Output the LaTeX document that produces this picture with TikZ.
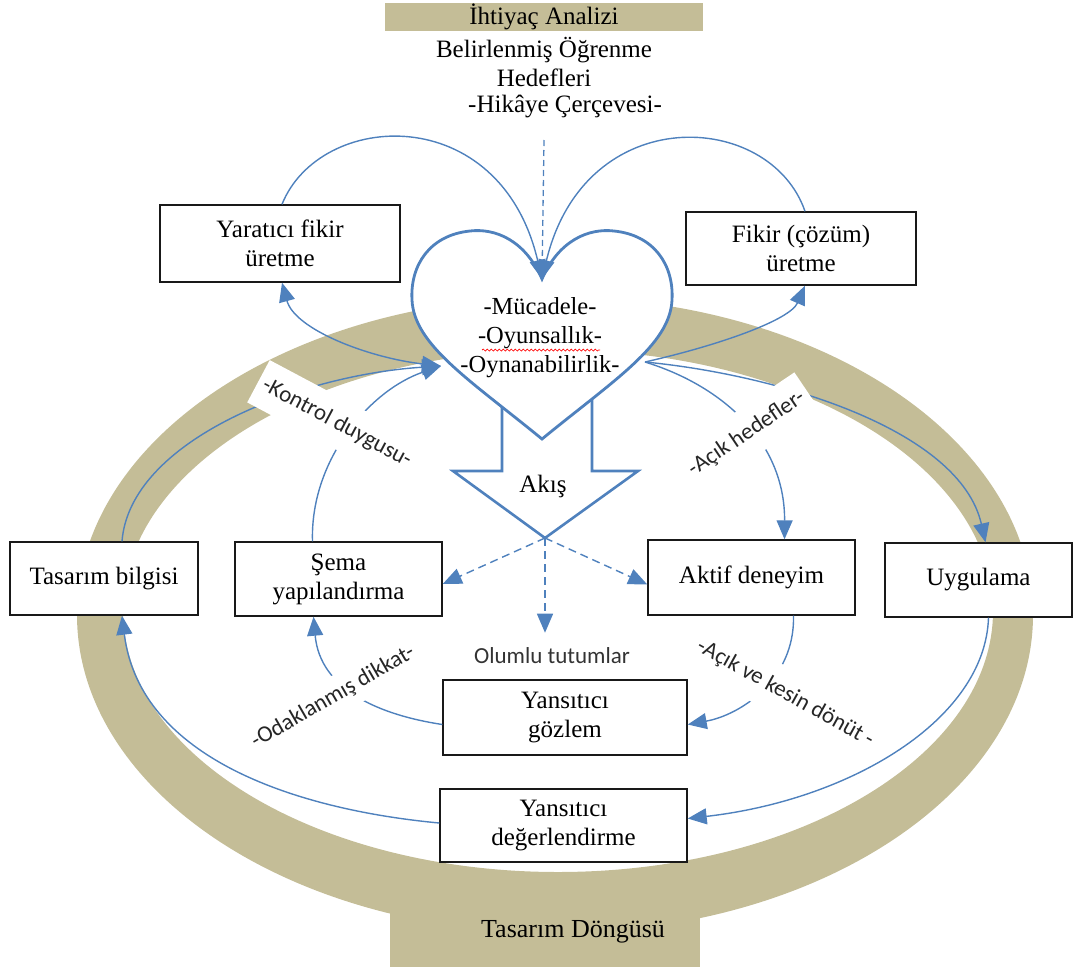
\documentclass[tikz,border=0pt]{standalone}
\usepackage{fontspec}
\setmainfont{Liberation Serif}
\newfontfamily\lblfont{Carlito}
\usetikzlibrary{arrows.meta,decorations.pathmorphing}
\definecolor{tanc}{HTML}{C4BD97}
\definecolor{blu}{HTML}{4F81BD}
\begin{document}
\begin{tikzpicture}[x=1pt,y=-1pt,
  >={Triangle[length=19pt,width=16pt]},
  box/.style={draw=black!90,line width=1.4pt,fill=white,align=center,inner sep=0pt,font=\fontsize{25}{29}\selectfont},
  conn/.style={draw=blu,line width=1.4pt,->},
  bconn/.style={draw=blu,line width=1.4pt,<->},
  dconn/.style={conn,dash pattern=on 8pt off 5pt},
  lbl/.style={fill=white,text=black!85,inner xsep=6pt,inner ysep=14pt,font=\lblfont\fontsize{23}{27}\selectfont},
  txt/.style={align=center,inner sep=0pt,font=\fontsize{25}{29}\selectfont},
]
\useasboundingbox (0,0) rectangle (1075,972);
% design cycle ring
\fill[tanc,even odd rule] (555,615) ellipse [x radius=478pt,y radius=318pt] (558,611) ellipse [x radius=435pt,y radius=261pt];
\fill[tanc] (390,878) rectangle (700,967);
\node[txt,font=\fontsize{26}{30}\selectfont] (tdong) at (573,932) {Tasarım Döngüsü};

% header
\node[fill=tanc,minimum width=318pt,minimum height=28pt,inner sep=0pt,font=\fontsize{25}{28}\selectfont] (hdr) at (544,16.5) {İhtiyaç Analizi};
\node[txt] (hed) at (544,62) {Belirlenmiş Öğrenme\\Hedefleri};
\node[txt] (hik) at (565,106) {-Hikâye Çerçevesi-};
\coordinate (dtop) at (544,140);

% boxes
\node[box,minimum width=240pt,minimum height=77pt] (yar) at (280,243.5) {Yaratıcı fikir\\üretme};
\node[box,minimum width=230pt,minimum height=73pt] (fik) at (801,248.5) {Fikir (çözüm)\\üretme};
\node[box,minimum width=188pt,minimum height=73pt] (tb) at (104,578.5) {Tasarım bilgisi};
\node[box,minimum width=207pt,minimum height=74pt] (sema) at (338.5,579) {Şema\\yapılandırma};
\node[box,minimum width=207pt,minimum height=75pt] (aktif) at (751.5,577.5) {Aktif deneyim};
\node[box,minimum width=187pt,minimum height=74pt] (uyg) at (978.5,580) {Uygulama};
\node[box,minimum width=244pt,minimum height=75pt] (ygoz) at (565,717.5) {Yansıtıcı\\gözlem};
\node[box,minimum width=247pt,minimum height=73pt] (ydeg) at (563.5,825.5) {Yansıtıcı\\değerlendirme};
\node[inner xsep=0pt,inner ysep=15pt,text=black!80,font=\lblfont\fontsize{23}{26}\selectfont] (olt) at (552,656) {Olumlu tutumlar};

% flow block arrow
\draw[blu,line width=2.6pt,fill=white,line join=miter] (502,400) -- (502,471) -- (453,471) -- (545,538) -- (638,471) -- (592,471) -- (592,398);
\coordinate (tip) at (545,538);
\node[txt] (akis) at (543,486) {Akış};

% heart
\coordinate (notch) at (542,279);
\coordinate (hl) at (441,366);
\coordinate (hr) at (645,362);
\draw[blu,line width=2.8pt,fill=white] (notch) .. controls (525,240) and (495,228) .. (470,231) .. controls (430,235) and (410,265) .. (412,300) .. controls (414,345) and (470,380) .. (542,439) .. controls (614,380) and (670,345) .. (672,300) .. controls (674,265) and (654,235) .. (614,231) .. controls (589,228) and (559,240) .. cycle;
\node[align=center,inner sep=0pt,font=\fontsize{24.5}{29}\selectfont] (heart) at (540,338) {-Mücadele-\\-Oyunsallık-\\-Oynanabilirlik-};
\draw[red,line width=0.7pt,decorate,decoration={snake,amplitude=1pt,segment length=4pt}] (482,350) -- (600,350);

% connectors: top
\draw[conn] ([xshift=2pt]yar.north) .. controls (320,110) and (500,100) .. (notch);
\draw[conn] ([xshift=4pt]fik.north) .. controls (770,110) and (585,100) .. (notch);
\draw[blu,line width=1.3pt,dash pattern=on 6pt off 4pt] (dtop) -- (notch);
% left
\draw[conn] ([xshift=18pt]tb.north) .. controls (130,440) and (300,375) .. (hl);
\draw[conn] ([xshift=-26pt]sema.north) .. controls (310,460) and (370,390) .. (hl);
\draw[bconn] ([xshift=2pt]yar.south) .. controls (295,330) and (370,358) .. (hl);
% right
\draw[conn] (hr) .. controls (720,345) and (790,320) .. ([xshift=4pt]fik.south);
\draw[conn] (hr) .. controls (780,375) and (960,430) .. ([xshift=7pt]uyg.north);
\draw[conn] (hr) .. controls (720,385) and (785,440) .. ([xshift=33pt]aktif.north);
% lower
\draw[conn] ([xshift=42pt]aktif.south) .. controls (795,680) and (740,715) .. ([yshift=-7pt]ygoz.east);
\draw[conn] ([xshift=10pt]uyg.south) .. controls (985,720) and (850,800) .. ([yshift=7pt]ydeg.east);
\draw[conn] ([yshift=-7pt]ygoz.west) .. controls (380,715) and (320,690) .. ([xshift=-25pt]sema.south);
\draw[conn] ([yshift=2.5pt]ydeg.west) .. controls (300,810) and (140,760) .. ([xshift=18pt]tb.south);
% dashed from flow
\draw[dconn] (tip) -- ([yshift=-5pt]sema.east);
\draw[dconn] (tip) -- ([yshift=-7pt]aktif.west);
\draw[dconn] (tip) -- (tip |- olt.north);

% labels
\node[lbl,rotate=-28] (kon) at (337,423) {-Kontrol duygusu-};
\node[lbl,rotate=34,anchor=west] (ach) at (685,475) {-Açık hedefler-\hspace{38pt}};
\node[lbl,rotate=30,inner ysep=9pt] (odk) at (333,697) {-Odaklanmış dikkat-};
\node[lbl,rotate=-29,anchor=west] (akd) at (693,642) {-Açık ve kesin dönüt -\hspace{45pt}};
\end{tikzpicture}
\end{document}
